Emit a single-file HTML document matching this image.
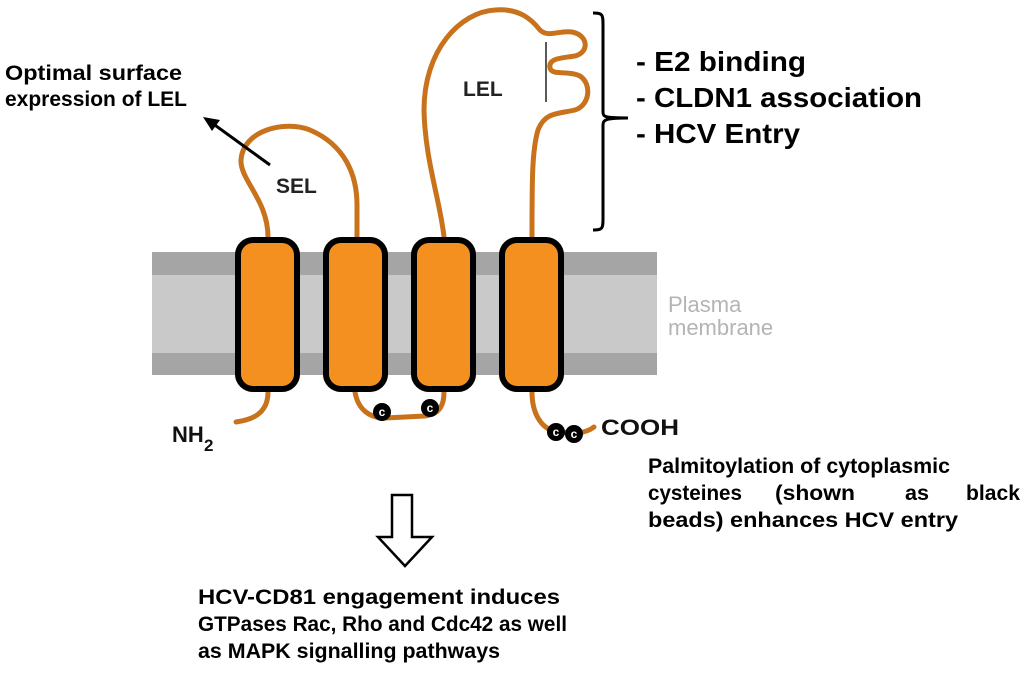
<!DOCTYPE html>
<html><head><meta charset="utf-8"><style>
html,body{margin:0;padding:0;background:#fff;width:1024px;height:673px;overflow:hidden}
svg{display:block}
text{font-family:"Liberation Sans",Arial,sans-serif;font-weight:bold}
</style></head><body>
<svg width="1024" height="673" viewBox="0 0 1024 673">
<rect x="152" y="252" width="505" height="123" fill="#c9c9c9"/>
<rect x="152" y="252" width="505" height="23" fill="#a5a5a5"/>
<rect x="152" y="353" width="505" height="22" fill="#a5a5a5"/>
<text x="668" y="312" font-size="22" fill="#b4b4b4" style="font-weight:normal">Plasma</text>
<text x="668" y="335" font-size="22" fill="#b4b4b4" style="font-weight:normal">membrane</text>
<g fill="none" stroke="#c8721c" stroke-width="5" stroke-linecap="round" stroke-linejoin="round">
<path d="M268 392 C268 415 250 420 236 422"/>
<path d="M268 237 C268 200 240 180 241 160 C243 130 285 120 310 130 C345 145 357 175 357 205 L357 237"/>
<path d="M444 237 C440 200 425 160 424 110 C424 50 460 12 495 10 C520 8 532 20 540 30 C548 38 560 30 572 32 C588 35 590 52 575 56 C562 58 548 58 550 68 C552 76 568 70 580 76 C592 84 590 105 575 110 C558 114 545 112 538 130 C532 150 532 180 532 237"/>
<path d="M355 392 C358 410 370 418 385 418 L425 416 C440 414 444 405 444 392"/>
<path d="M532 392 C532 412 540 428 556 432 L578 433 C586 432 590 430 594 427"/>
</g>
<line x1="546" y1="42" x2="546" y2="102" stroke="#222" stroke-width="1.5"/>
<g fill="#f39020" stroke="#000" stroke-width="6">
<rect x="238" y="240" width="59" height="149" rx="15"/>
<rect x="326" y="240" width="59" height="149" rx="15"/>
<rect x="414" y="240" width="59" height="149" rx="15"/>
<rect x="502" y="240" width="59" height="149" rx="15"/>
</g>
<g fill="#000">
<circle cx="382" cy="412" r="9"/><circle cx="430" cy="408" r="9"/>
<circle cx="556" cy="432" r="9"/><circle cx="574" cy="434" r="9"/>
</g>
<g font-size="12" fill="#fff" text-anchor="middle">
<text x="382" y="416">c</text><text x="430" y="412">c</text><text x="556" y="436">c</text><text x="574" y="438">c</text>
</g>
<text x="276" y="193" font-size="21" fill="#222">SEL</text>
<text x="463" y="96" font-size="21" fill="#222">LEL</text>
<text x="172" y="442" font-size="22" fill="#111">NH</text>
<text x="204" y="451" font-size="17" fill="#111">2</text>
<text x="601" y="435" font-size="22" fill="#111" textLength="78" lengthAdjust="spacingAndGlyphs">COOH</text>
<line x1="270" y1="165" x2="212" y2="123" stroke="#000" stroke-width="3"/>
<path d="M203 117 L220 120 L212 131 Z" fill="#000"/>
<path d="M593 13 C603 13 603 15 603 25 L603 112 C603 117 605 118 628 118 C605 118 603 120 603 125 L603 218 C603 228 603 230 593 230" fill="none" stroke="#000" stroke-width="3"/>
<path d="M392 495 L412 495 L412 537 L432 537 L405 566 L378 537 L392 537 Z" fill="#fff" stroke="#000" stroke-width="2.5"/>
<g font-size="21" fill="#000">
<text x="5" y="80" textLength="177" lengthAdjust="spacingAndGlyphs">Optimal surface</text>
<text x="5" y="106" textLength="182" lengthAdjust="spacingAndGlyphs">expression of LEL</text>
<text x="648" y="473" textLength="302" lengthAdjust="spacingAndGlyphs">Palmitoylation of cytoplasmic</text>
<text x="648" y="500" textLength="94" lengthAdjust="spacingAndGlyphs">cysteines</text>
<text x="775" y="500" textLength="80" lengthAdjust="spacingAndGlyphs">(shown</text>
<text x="905" y="500" textLength="24" lengthAdjust="spacingAndGlyphs">as</text>
<text x="966" y="500" textLength="54" lengthAdjust="spacingAndGlyphs">black</text>
<text x="648" y="527" textLength="310" lengthAdjust="spacingAndGlyphs">beads) enhances HCV entry</text>
<text x="198" y="604" textLength="362" lengthAdjust="spacingAndGlyphs">HCV-CD81 engagement induces</text>
<text x="198" y="631" textLength="369" lengthAdjust="spacingAndGlyphs">GTPases Rac, Rho and Cdc42 as well</text>
<text x="198" y="658" textLength="302" lengthAdjust="spacingAndGlyphs">as MAPK signalling pathways</text>
</g>
<g font-size="28" fill="#000">
<text x="636" y="71" textLength="170" lengthAdjust="spacingAndGlyphs">- E2 binding</text>
<text x="636" y="107" textLength="286" lengthAdjust="spacingAndGlyphs">- CLDN1 association</text>
<text x="636" y="143" textLength="164" lengthAdjust="spacingAndGlyphs">- HCV Entry</text>
</g>
</svg>
</body></html>
